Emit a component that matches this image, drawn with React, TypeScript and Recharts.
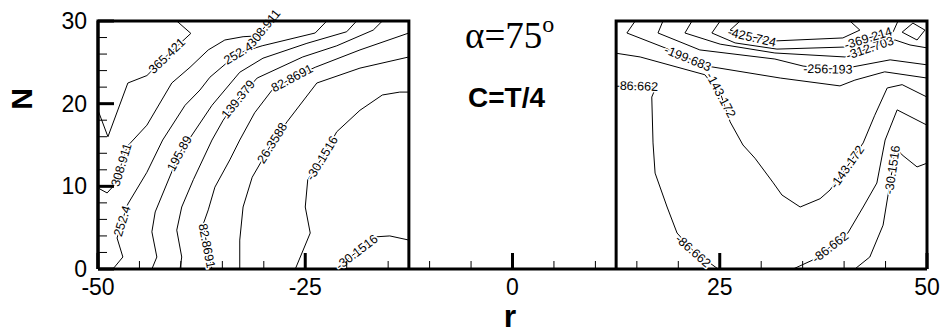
import { Customized, Scatter, ScatterChart, XAxis, YAxis } from 'recharts';

type Pt = [number, number];

const WIDTH = 944;
const HEIGHT = 334;
const MARGIN = { top: 21, right: 17, bottom: 0, left: 0 };
const Y_AXIS_W = 98;
const X_AXIS_H = 65;
// pixels per unit on each axis, used to turn contour directions into label angles
const KX = (WIDTH - Y_AXIS_W - MARGIN.right) / 100;
const KY = (HEIGHT - MARGIN.top - X_AXIS_H) / 30;

const FONT = "'Liberation Sans', Arial, sans-serif";

// axis ticks; only some of them carry a number
const X_TICKS = [-50, -45, -40, -35, -30, -25, -20, -15, -10, -5, 0, 5, 10, 15, 20, 25, 30, 35, 40, 45, 50];
const X_LABELED = [-50, -25, 0, 25, 50];
const Y_TICKS = [0, 2, 4, 6, 8, 10, 12, 14, 16, 18, 20, 22, 24, 26, 28, 30];
const Y_LABELED = [0, 10, 20, 30];

// frames of the two windows
const LEFT_BOX: Pt[] = [[-50, 0], [-50, 30], [-12.5, 30], [-12.5, 0]];
const RIGHT_BOX: Pt[] = [[12.5, 0], [12.5, 30], [50, 30], [50, 0]];

// contour lines, left window (r, N)
const L365: Pt[] = [[-40.5, 30], [-38.8, 28.5], [-41.7, 25.8], [-44.1, 23.4], [-46.4, 22.5], [-48.8, 16], [-50, 19.2]];
const L308: Pt[] = [[-50, 9.8], [-48.9, 9.2], [-47.8, 10.4], [-47.2, 12.6], [-46.5, 14.8], [-44.1, 17.4], [-41.1, 22.5], [-38.9, 24.4], [-36.7, 26.5], [-34.7, 27.7], [-32.5, 28.1], [-30.7, 28.2], [-30.0, 29.15], [-29.25, 30]];
const L252: Pt[] = [[-48.2, 0], [-47.0, 1.45], [-47.7, 3.75], [-47.1, 5.8], [-46.4, 7.86], [-44.1, 11.7], [-42.2, 15.6], [-39.5, 19.8], [-37.7, 21.65], [-36.5, 23.2], [-33.1, 26.1], [-30.2, 27.0], [-23.8, 28.55], [-22.4, 30]];
const L195: Pt[] = [[-43.5, 0], [-42.9, 1.45], [-43.5, 4.5], [-43.1, 6.9], [-41.0, 12], [-40.2, 14], [-38.9, 15.85], [-36.25, 19.8], [-32.9, 23.8], [-30.1, 25.5], [-24.8, 27.3], [-20.0, 28.7], [-18.8, 30]];
const L139: Pt[] = [[-40.1, 0], [-39.9, 1.45], [-40.5, 4.7], [-39.9, 7.5], [-38.5, 10.8], [-36.25, 15.6], [-34.9, 18], [-33.1, 20.55], [-30.8, 23.1], [-25.3, 25.65], [-21.2, 27], [-16.8, 28.9], [-15.7, 30]];
const L82: Pt[] = [[-36.25, 0], [-36.85, 2.8], [-37.3, 5.45], [-36.7, 7.15], [-35.9, 9.9], [-34.1, 13.2], [-32.9, 15.6], [-31.1, 18.9], [-29.0, 21.65], [-26.6, 23.1], [-23.8, 24.4], [-18.4, 26.5], [-12.5, 28.55]];
const L26: Pt[] = [[-32.9, 0], [-32.9, 3.5], [-32.5, 7.5], [-31.4, 11.1], [-29.0, 15.25], [-27.2, 17.8], [-23.6, 22.5], [-18.4, 24.3], [-12.5, 25.65]];
const LM30A: Pt[] = [[-26.2, 0], [-24.4, 4.35], [-25.0, 7.5], [-24.7, 10.8], [-23.0, 13.4], [-21.2, 16.6], [-18.4, 19.2], [-15.7, 21.05], [-13.6, 21.4], [-12.5, 21.4]];
const LM30B: Pt[] = [[-21.4, 0], [-18.8, 2.05], [-16.35, 3.9], [-14.8, 4.0], [-12.5, 3.5]];

// contour lines, right window
const R86A: Pt[] = [[12.5, 22.15], [15.0, 22.15], [17.3, 22.0], [16.8, 20.8], [16.95, 15.25], [17.2, 11.6], [18.65, 7.5], [19.85, 4.35], [21.8, 2.2], [24.8, 0]];
const R143: Pt[] = [[12.5, 26.1], [15.4, 25.65], [23.2, 23.5], [25.15, 21.05], [26.25, 17.8], [27.8, 15], [29.25, 13.4], [31.4, 10.5], [32.5, 8.95], [34.7, 7.5], [37.1, 8.5], [38.3, 9.55], [40.35, 12.35], [42.3, 15.25], [43.7, 18.6], [45.2, 21.9], [47.0, 22.3], [50, 20.8]];
const R199: Pt[] = [[14.8, 30], [13.8, 28.55], [18.4, 26.75], [21.15, 25.5], [24.05, 24.45], [32.3, 23.1], [39.5, 22.15], [41.3, 22.85], [44.9, 23.85], [50, 23.1]];
const R256: Pt[] = [[18.15, 30], [17.55, 28.55], [22.6, 26.5], [31.65, 25.4], [35.05, 24.55], [38.05, 24.2], [41.05, 24.45], [45.55, 25.3], [50, 24.7]];
const R312: Pt[] = [[21.65, 30], [20.8, 28.55], [25.05, 27.2], [31.65, 26.13], [40.1, 25.65], [43.1, 26.75], [46.15, 27.7], [47.95, 27.1], [50, 26.75]];
const R369: Pt[] = [[25.05, 30], [24.05, 28.55], [26.85, 27.35], [31.9, 26.6], [40.1, 26.85], [42.9, 27.95], [45.9, 28.65], [46.5, 30]];
const R425: Pt[] = [[27.45, 30], [26.25, 28.9], [28.9, 28.05], [31.9, 27.6], [39.85, 27.95], [41.9, 28.9], [40.7, 30]];
const RLOOP: Pt[] = [[47.0, 28.65], [48.3, 29.75], [49.75, 28.9], [48.8, 27.7], [47.0, 28.65]];
const R86B: Pt[] = [[33.85, 0], [36.25, 1.1], [38.3, 2.65], [40.45, 4.35], [42.3, 7.5], [43.95, 10.4], [44.95, 15.6], [46.4, 19.25], [50, 17.4]];
const RM30: Pt[] = [[41.3, 0], [43.1, 1.45], [44.7, 5.3], [45.3, 8.95], [45.8, 12], [46.15, 14.75], [47.0, 13.8], [48.8, 12.35], [50, 12.8]];

const CONTOURS = [L365, L308, L252, L195, L139, L82, L26, LM30A, LM30B, R86A, R143, R199, R256, R312, R369, R425, RLOOP, R86B, RM30];

// level labels: which line and which vertex they sit on
const LABELS: { text: string; line: Pt[]; at: number }[] = [
  { text: '365.421', line: L365, at: 2 },
  { text: '308.911', line: L308, at: 3 },
  { text: '308.911', line: L308, at: 12 },
  { text: '252.4', line: L252, at: 3 },
  { text: '252.4', line: L252, at: 10 },
  { text: '195.89', line: L195, at: 5 },
  { text: '139.379', line: L139, at: 7 },
  { text: '82.8691', line: L82, at: 1 },
  { text: '82.8691', line: L82, at: 9 },
  { text: '26.3588', line: L26, at: 4 },
  { text: '-30.1516', line: LM30A, at: 4 },
  { text: '-30.1516', line: LM30B, at: 1 },
  { text: '-86.662', line: R86A, at: 1 },
  { text: '-86.662', line: R86A, at: 8 },
  { text: '-143.172', line: R143, at: 3 },
  { text: '-143.172', line: R143, at: 12 },
  { text: '-199.683', line: R199, at: 3 },
  { text: '-256.193', line: R256, at: 5 },
  { text: '-312.703', line: R312, at: 5 },
  { text: '-369.214', line: R369, at: 5 },
  { text: '-425.724', line: R425, at: 2 },
  { text: '-86.662', line: R86B, at: 2 },
  { text: '-30.1516', line: RM30, at: 4 },
];

const toXY = (pts: Pt[]) => pts.map(([x, y]) => ({ x, y }));

// label follows the local direction of its line, kept readable
const labelAngle = (line: Pt[], i: number) => {
  const [x0, y0] = line[Math.max(i - 1, 0)];
  const [x1, y1] = line[Math.min(i + 1, line.length - 1)];
  let a = (Math.atan2(-(y1 - y0) * KY, (x1 - x0) * KX) * 180) / Math.PI;
  if (a > 90) a -= 180;
  if (a <= -90) a += 180;
  return a;
};

const labelPoints = LABELS.map((l) => ({
  x: l.line[l.at][0],
  y: l.line[l.at][1],
  text: l.text,
  angle: labelAngle(l.line, l.at),
}));

// tick marks sit on the axes and point into the plot
const xTickMarks = X_TICKS.map((x) => ({ x, y: 0, major: X_LABELED.includes(x) ? 1 : 0 }));
const yTickMarks = Y_TICKS.map((y) => ({ x: -50, y, major: Y_LABELED.includes(y) ? 1 : 0 }));

const NoDot = () => <g />;

function XTickMark(props: any) {
  const { cx, cy } = props;
  const major = (props.payload ?? props).major;
  const len = major ? 16 : 8;
  return <path d={`M${cx},${cy}V${cy - len}`} fill="none" stroke="#000" strokeWidth={major ? 3 : 1} />;
}

function YTickMark(props: any) {
  const { cx, cy } = props;
  const major = (props.payload ?? props).major;
  const len = major ? 16 : 9;
  return <path d={`M${cx},${cy}H${cx + len}`} fill="none" stroke="#000" strokeWidth={major ? 3 : 1} />;
}

function ContourLabel(props: any) {
  const { cx, cy } = props;
  const p = props.payload ?? props;
  return (
    <text
      x={cx}
      y={cy}
      dy="0.35em"
      transform={`rotate(${p.angle} ${cx} ${cy})`}
      textAnchor="middle"
      fontSize={12.5}
      fontFamily={FONT}
      fill="#000"
      stroke="#fff"
      strokeWidth={3}
      strokeLinejoin="round"
      paintOrder="stroke"
    >
      {p.text}
    </text>
  );
}

function XTick(props: any) {
  const { x, y, payload } = props;
  if (!X_LABELED.includes(payload.value)) return <g />;
  return (
    <text x={x} y={y + 26} textAnchor="middle" fontSize={23} fontFamily={FONT} fill="#000">
      {payload.value}
    </text>
  );
}

function YTick(props: any) {
  const { x, y, payload } = props;
  if (!Y_LABELED.includes(payload.value)) return <g />;
  return (
    <text x={x - 11} y={y + 8} textAnchor="end" fontSize={23} fontFamily={FONT} fill="#000">
      {payload.value}
    </text>
  );
}

function Titles() {
  return (
    <g>
      <text x={465} y={48} fontSize={37} fontFamily="'Liberation Serif', 'Times New Roman', serif" fill="#000">
        α=75
        <tspan fontSize={24} dy={-16}>o</tspan>
      </text>
      <text x={468} y={107} fontSize={28} fontWeight="bold" fontFamily={FONT} fill="#000">
        C=T/4
      </text>
      <text
        x={21}
        y={99}
        transform="rotate(-90 21 99)"
        textAnchor="middle"
        dy="0.35em"
        fontSize={30}
        fontWeight="bold"
        fontFamily={FONT}
        fill="#000"
      >
        N
      </text>
      <text x={510} y={327} textAnchor="middle" fontSize={32} fontWeight="bold" fontFamily={FONT} fill="#000">
        r
      </text>
    </g>
  );
}

export default function App() {
  return (
    <div style={{ position: 'absolute', left: 0, top: 0, width: WIDTH, height: HEIGHT, background: '#fff' }}>
      <ScatterChart width={WIDTH} height={HEIGHT} margin={MARGIN}>
        <XAxis
          type="number"
          dataKey="x"
          domain={[-50, 50]}
          ticks={X_TICKS}
          interval={0}
          height={X_AXIS_H}
          tickSize={0}
          tickMargin={0}
          tickLine={false}
          axisLine={{ stroke: '#000', strokeWidth: 3 }}
          tick={XTick}
        />
        <YAxis
          type="number"
          dataKey="y"
          domain={[0, 30]}
          ticks={Y_TICKS}
          interval={0}
          width={Y_AXIS_W}
          tickSize={0}
          tickMargin={0}
          tickLine={false}
          axisLine={{ stroke: '#000', strokeWidth: 3 }}
          tick={YTick}
        />
        {CONTOURS.map((pts, i) => (
          <Scatter
            key={`c${i}`}
            data={toXY(pts)}
            line={{ stroke: '#000', strokeWidth: 1 }}
            lineType="joint"
            shape={NoDot}
            isAnimationActive={false}
          />
        ))}
        <Scatter data={labelPoints} shape={ContourLabel} isAnimationActive={false} />
        {[LEFT_BOX, RIGHT_BOX].map((pts, i) => (
          <Scatter
            key={`b${i}`}
            data={toXY(pts)}
            line={{ stroke: '#000', strokeWidth: 3 }}
            lineType="joint"
            shape={NoDot}
            isAnimationActive={false}
          />
        ))}
        <Scatter data={xTickMarks} shape={XTickMark} isAnimationActive={false} />
        <Scatter data={yTickMarks} shape={YTickMark} isAnimationActive={false} />
        <Customized component={Titles} />
      </ScatterChart>
    </div>
  );
}
